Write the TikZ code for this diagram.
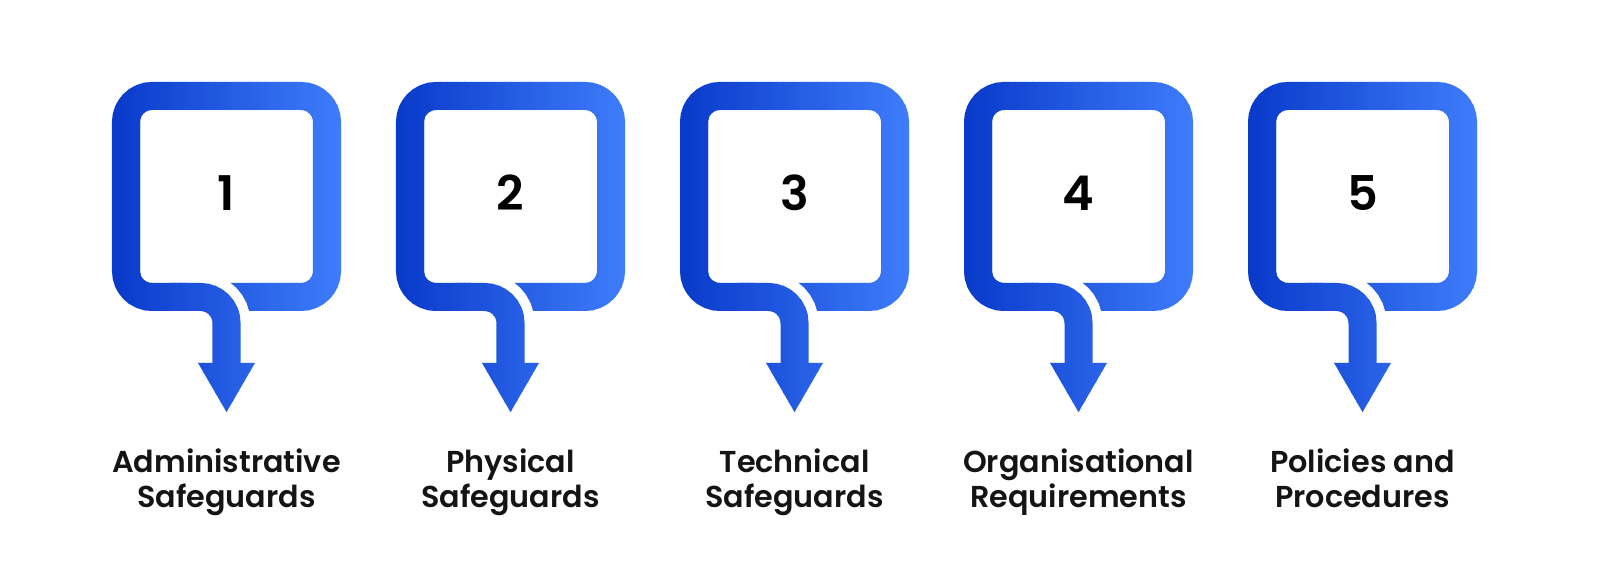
\documentclass[tikz,border=0pt]{standalone}
\usepackage{fontspec}
\usepackage{tikz}
\usetikzlibrary{arrows.meta}

\newfontfamily\labfont{Poppins SemiBold}
\newfontfamily\numfont{Poppins SemiBold}

\definecolor{pinleft}{RGB}{9,58,202}
\definecolor{pinright}{RGB}{62,124,250}

\tikzset{
    pin/.style={line width=0.28cm, rounded corners=0.26cm},
    gap/.style={line width=0.48cm, rounded corners=0.26cm, color=white},
    num/.style={font=\numfont\fontsize{13.6}{14}\selectfont, text=black},
    lab/.style={font=\labfont\fontsize{8.6}{10.2}\selectfont, align=center, anchor=base, text=black!92}
}

% box of a pin: #1 = centre x, #2 = colour
\newcommand{\pinbox}[2]{%
    \draw [pin, color=#2] (#1,280) -- (#1+100.5,280) -- (#1+100.5,481)
        -- (#1-100.5,481) -- (#1-100.5,280) -- (#1,280);}

% stem of a pin, bending down into the arrow
\newcommand{\pinstem}[2]{%
    \draw [pin, color=#2, -{Triangle[width=0.53cm,length=0.5cm]}]
        (#1-55,280) -- (#1,280) -- (#1,164);}

% paint #2 in strips, shaded left to right
\newcommand{\instrips}[2]{%
    \foreach \s in {0,...,39}{%
        \pgfmathsetmacro{\pct}{100*\s/39}
        \colorlet{pincol}{pinright!\pct!pinleft}
        \begin{scope}
            \clip (#1-116+5.8*\s,150) rectangle (#1-116+5.8*\s+6.8,500);
            #2{#1}{pincol}
        \end{scope}}}

\begin{document}
\begin{tikzpicture}[x=0.01cm,y=0.01cm]
    \useasboundingbox (0,0) rectangle (1600,577);

    \foreach \k in {0,...,4}{%
        \pgfmathsetmacro{\cx}{226.5+284*\k}
        \instrips{\cx}{\pinbox}
        \draw [gap] (\cx-40,280) -- (\cx,280) -- (\cx,240);
        \instrips{\cx}{\pinstem}}

    % numbers and labels
    \foreach \k/\txt [count=\n] in {0/{Administrative\\Safeguards},
                                    1/{Physical\\Safeguards},
                                    2/{Technical\\Safeguards},
                                    3/{Organisational\\Requirements},
                                    4/{Policies and\\Procedures}}{%
        \pgfmathsetmacro{\cx}{226.5+284*\k}
        \node [num] (num\n) at (\cx,384) {\n};
        \node [lab] (lab\n) at (\cx,69) {\txt};}
\end{tikzpicture}
\end{document}
